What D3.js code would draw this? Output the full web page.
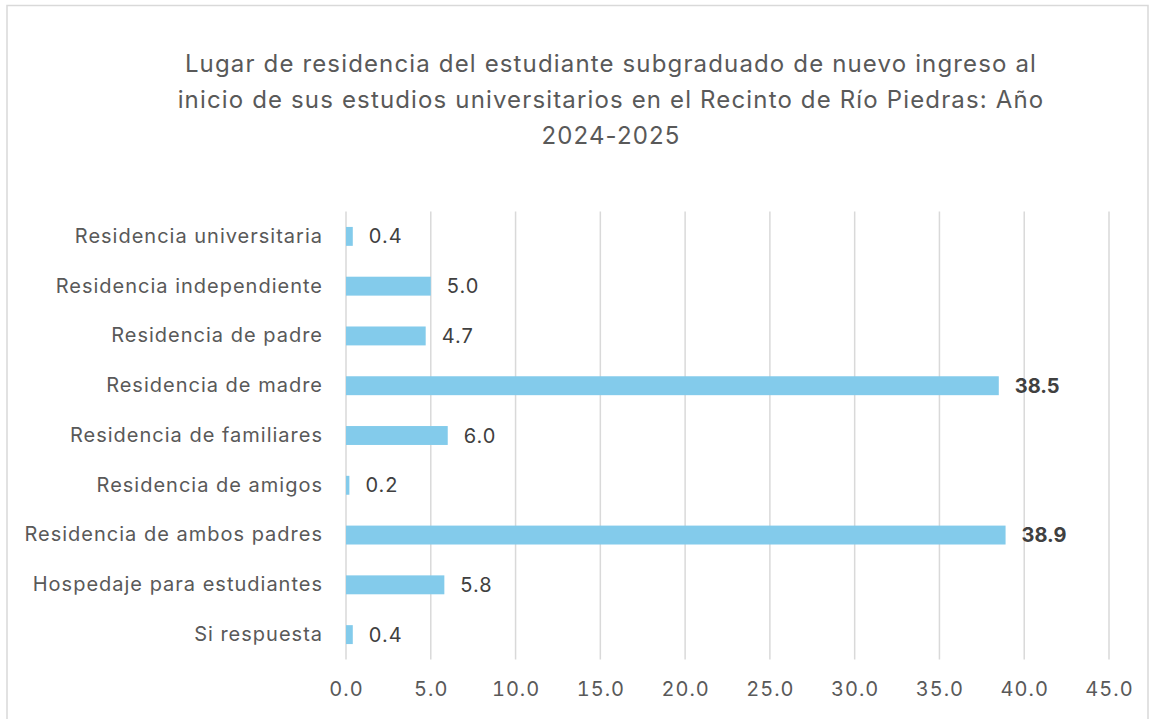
<!DOCTYPE html>
<html>
<head>
<meta charset="utf-8">
<script src="https://cdn.jsdelivr.net/npm/d3@7"></script>
<style>
  html, body { margin: 0; padding: 0; background: #fff; }
  svg { display: block; }
  text { font-family: Inter, "Liberation Sans", Arial, sans-serif; }
</style>
</head>
<body>
<svg id="chart" width="1150" height="719"></svg>
<script>
const categories = [
  "Residencia universitaria",
  "Residencia independiente",
  "Residencia de padre",
  "Residencia de madre",
  "Residencia de familiares",
  "Residencia de amigos",
  "Residencia de ambos padres",
  "Hospedaje para estudiantes",
  "Si respuesta"
];
const values = [0.4, 5.0, 4.7, 38.5, 6.0, 0.2, 38.9, 5.8, 0.4];
const boldLabels = ["Residencia de madre", "Residencia de ambos padres"];
const tickValues = [0, 5, 10, 15, 20, 25, 30, 35, 40, 45];
const titleLines = [
  "Lugar de residencia del estudiante subgraduado de nuevo ingreso al",
  "inicio de sus estudios universitarios en el Recinto de Río Piedras: Año",
  "2024-2025"
];

const FONT = "Inter, Liberation Sans, Arial, sans-serif";
const svg = d3.select("#chart");

// chart border
svg.append("rect")
  .attr("x", 7).attr("y", 5.5)
  .attr("width", 1141).attr("height", 730)
  .attr("fill", "#fff").attr("stroke", "#d9d9d9").attr("stroke-width", 1.5);

const x = d3.scaleLinear().domain([0, 45]).range([346, 1109]);
const y = d3.scaleBand().domain(categories).range([211.5, 659.5]).paddingInner(0.62).paddingOuter(0.31);

// title
svg.append("g").selectAll("text").data(titleLines).join("text")
  .attr("x", 611).attr("y", (d, i) => 72 + i * 36)
  .attr("text-anchor", "middle")
  .attr("font-size", 24).attr("fill", "#595959")
  .attr("letter-spacing", 1.15)
  .text(d => d);

// gridlines
svg.append("g").selectAll("line").data(tickValues).join("line")
  .attr("x1", d => x(d)).attr("x2", d => x(d))
  .attr("y1", 211.5).attr("y2", 659.5)
  .attr("stroke", "#d9d9d9").attr("stroke-width", 1.5);

// x axis labels
const xAxis = d3.axisBottom(x).tickValues(tickValues).tickFormat(d3.format(".1f")).tickSize(0).tickPadding(0);
const gx = svg.append("g").attr("transform", "translate(0,682)").call(xAxis);
gx.select(".domain").remove();
gx.selectAll("text").attr("font-size", 20).attr("fill", "#595959")
  .attr("font-family", FONT).attr("letter-spacing", 1)
  .style("font-variant-numeric", "tabular-nums");

// y axis labels
const yAxis = d3.axisLeft(y).tickSize(0).tickPadding(0);
const gy = svg.append("g").attr("transform", "translate(323,0)").call(yAxis);
gy.select(".domain").remove();
gy.selectAll("text").attr("font-size", 20).attr("fill", "#595959")
  .attr("font-family", FONT).attr("letter-spacing", 1);

// bars
const data = categories.map((c, i) => ({ c, v: values[i] }));
svg.append("g").selectAll("rect").data(data).join("rect")
  .attr("x", x(0)).attr("y", d => y(d.c))
  .attr("width", d => x(d.v) - x(0)).attr("height", y.bandwidth())
  .attr("fill", "#83cbeb");

// value labels
svg.append("g").selectAll("text").data(data).join("text")
  .attr("x", d => x(d.v) + 16)
  .attr("y", d => y(d.c) + y.bandwidth() / 2)
  .attr("dy", "0.35em")
  .attr("font-size", 20)
  .attr("letter-spacing", d => boldLabels.includes(d.c) ? 0 : 1)
  .attr("font-weight", d => boldLabels.includes(d.c) ? "bold" : "normal")
  .attr("fill", "#404040")
  .text(d => d3.format(".1f")(d.v));
</script>
</body>
</html>
